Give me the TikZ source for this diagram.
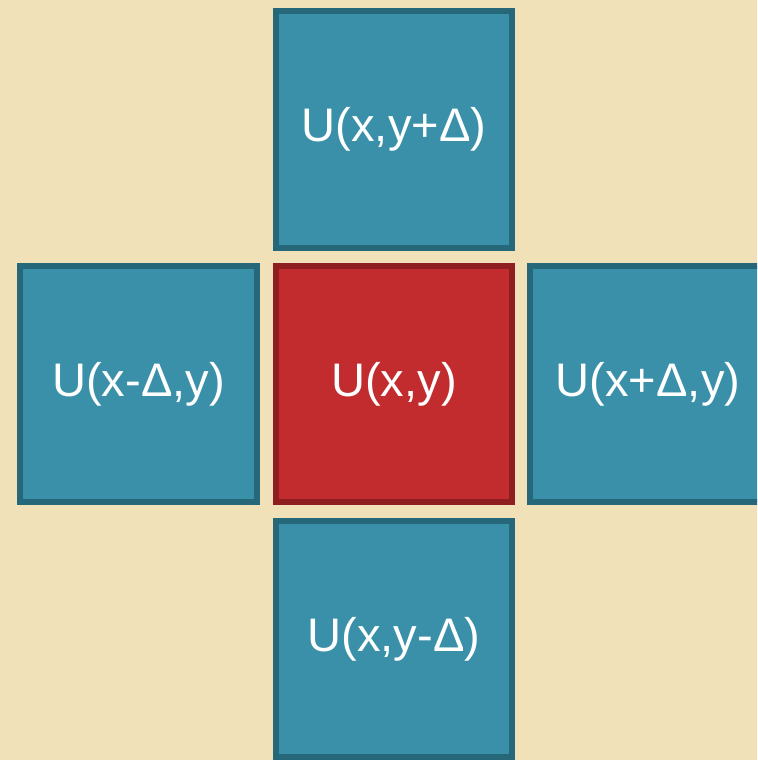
\documentclass[tikz,border=0pt]{standalone}
\usepackage{fontspec}
\setmainfont{Liberation Sans}
\usepackage{tikz}
\usetikzlibrary{positioning}

\definecolor{paper}{RGB}{240,225,184}
\definecolor{tealfill}{RGB}{58,144,168}
\definecolor{tealline}{RGB}{38,104,122}
\definecolor{redfill}{RGB}{194,44,46}
\definecolor{redline}{RGB}{142,30,32}

\begin{document}
\begin{tikzpicture}[
    cell/.style={draw=tealline, fill=tealfill, line width=1.6pt, minimum size=2.364cm, inner sep=0pt,
      text=white, font=\fontsize{13.4}{16}\selectfont},
    here/.style={cell, draw=redline, fill=redfill},
  ]
  \useasboundingbox (0,0) rectangle (7.57,-7.60);
  \clip (0,0) rectangle (7.57,-7.60);
  \fill[paper] (0,0) rectangle (7.57,-7.60);

  \node[here] (mid) at (3.94,-3.84) {U(x,y)};
  \node[cell] (up) at (3.94,-1.295) {U(x,y+Δ)};
  \node[cell] (left) at (1.385,-3.84) {U(x-Δ,y)};
  \node[cell] (right) at (6.48,-3.84) {U(x+Δ,y)};
  \node[cell] (down) at (3.94,-6.39) {U(x,y-Δ)};
\end{tikzpicture}
\end{document}
